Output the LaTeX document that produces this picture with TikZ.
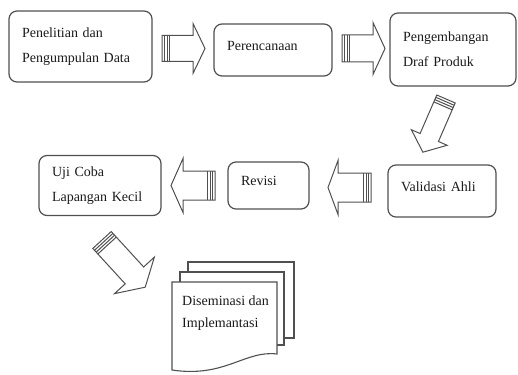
\documentclass[tikz,border=0pt]{standalone}
\usepackage{fontspec}
\setmainfont{Liberation Serif}
\definecolor{linegray}{HTML}{505050}
\definecolor{textgray}{HTML}{1A1A1A}

% block arrow: tail, angle, length, shaft half, head half, head length
\newcommand{\blockarrow}[6]{%
  \begin{scope}[shift={#1}, rotate=#2]
    \draw[arrowline] (0,-#4) -- ({#3-#6},-#4) -- ({#3-#6},-#5) -- (#3,0)
      -- ({#3-#6},#5) -- ({#3-#6},#4) -- (0,#4) -- cycle;
    \foreach \s in {2.5,5,7.5}
      \draw[arrowline] (\s,-#4) -- (\s,#4);
  \end{scope}}

\tikzset{
  box/.style={draw=linegray, line width=1.2pt, rounded corners=8pt,
    inner xsep=13pt, inner ysep=0pt, align=left, text=textgray,
    font=\fontsize{14}{25}\selectfont},
  oneline/.style={text height=9.5pt, text depth=9pt},
  arrowline/.style={draw=linegray, line width=1pt, line join=miter},
  page/.style={draw=linegray, line width=1.1pt, fill=white}
}

\begin{document}
\begin{tikzpicture}[x=1pt, y=-1pt]
    \useasboundingbox (0,0) rectangle (518,374);

    % top row
    \node[box, text width=117pt, minimum height=71pt] (riset) at (80.5,46.5) {Penelitian dan\\Pengumpulan Data};
    \node[box, oneline, text width=92pt, minimum height=52pt] (rencana) at (273,50) {Perencanaan};
    \node[box, text width=100pt, minimum height=73pt] (draf) at (453,49.5) {Pengembangan\\Draf Produk};

    % bottom row
    \node[box, oneline, text width=82pt, minimum height=52pt] (validasi) at (442,191) {Validasi Ahli};
    \node[box, oneline, text width=55pt, minimum height=47pt] (revisi) at (268.5,185.5) {Revisi};
    \node[box, text width=96pt, minimum height=60pt] (ujicoba) at (100,185.5) {Uji Coba\\Lapangan Kecil};

    % arrows
    \coordinate (a1) at (162,48.5);
    \coordinate (a2) at (342,48.5);
    \coordinate (a3) at (446,99);
    \coordinate (a4) at (371,187.5);
    \coordinate (a5) at (215,185.5);
    \coordinate (a6) at (102,240);
    \blockarrow{(a1)}{0}{43}{13}{25}{12}
    \blockarrow{(a2)}{0}{43}{13.5}{26}{12}
    \blockarrow{(a3)}{-113.5}{58}{10}{19.5}{16}
    \blockarrow{(a4)}{180}{43}{14.5}{27}{10}
    \blockarrow{(a5)}{180}{44}{14.5}{27}{12}
    \blockarrow{(a6)}{-47.5}{64}{12.5}{27}{16}

    % document stack
    \draw[page] (188,272) -- (188,262) -- (294,262) -- (294,338) -- (284,338);
    \draw[page] (180,282) -- (180,272) -- (284,272) -- (284,345) -- (277,345);
    \draw[page] (172,282) -- (277,282) -- (277,354)
      .. controls (245,350) and (225,378) .. (172,370) -- cycle;
    \node[anchor=north west, inner sep=0pt, align=left, text=textgray,
      font=\fontsize{14}{22}\selectfont] (sebar) at (182,295.5) {Diseminasi dan\\Implemantasi};
\end{tikzpicture}
\end{document}
